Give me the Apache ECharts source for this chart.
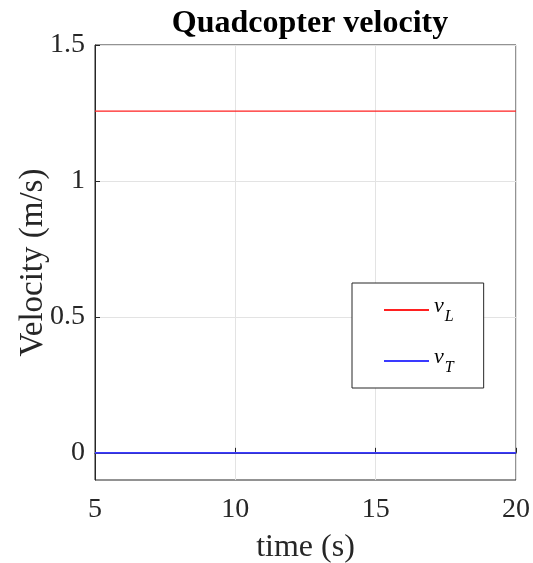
<!DOCTYPE html>
<html><head><meta charset="utf-8">
<script src="https://cdn.jsdelivr.net/npm/echarts@6/dist/echarts.min.js"></script>
<style>html,body{margin:0;padding:0;background:#fff}#c{width:533px;height:563px}</style>
</head><body><div id="c"></div>
<script>
const time = [5, 10, 15, 20];
const vL = [1.257, 1.257, 1.257, 1.257];
const vT = [0, 0, 0, 0];
const xTicks = [5, 10, 15, 20];
const yTicks = [0, 0.5, 1, 1.5];
const seriesNames = ['vL', 'vT'];
const subs = {vL: 'L', vT: 'T'};

const serif = '"Liberation Serif", "Times New Roman", serif';
const chart = echarts.init(document.getElementById('c'));
chart.setOption({
  backgroundColor: '#fff',
  animation: false,
  title: {
    text: 'Quadcopter velocity', left: 305, top: 3, textAlign: 'center',
    textStyle: {fontFamily: serif, fontWeight: 'bold', fontSize: 32, color: '#000'}
  },
  grid: {left: 95, right: 17, top: 45, bottom: 83, show: true, borderColor: '#262626', borderWidth: 1,
    outerBoundsMode: 'none', containLabel: false},
  xAxis: {
    type: 'value', min: 5, max: 20, interval: 5,
    name: 'time (s)', nameLocation: 'middle', nameGap: 52, nameMoveOverlap: false,
    nameTextStyle: {fontFamily: serif, fontSize: 32, color: '#262626'},
    axisLine: {show: true, lineStyle: {color: '#262626', width: 1}},
    axisTick: {show: true, inside: true, length: 5, lineStyle: {color: '#262626'}},
    axisLabel: {fontFamily: serif, fontSize: 28, color: '#262626', margin: 16},
    splitLine: {show: true, lineStyle: {color: '#e3e3e3', width: 1}}
  },
  yAxis: {
    type: 'value', min: -0.1, max: 1.5, splitNumber: 3,
    name: 'Velocity (m/s)', nameLocation: 'middle', nameGap: 45, nameMoveOverlap: false,
    nameTextStyle: {fontFamily: serif, fontSize: 33, color: '#262626'},
    axisLine: {show: true, lineStyle: {color: '#262626', width: 1}},
    axisTick: {show: true, inside: true, length: 5, customValues: yTicks, lineStyle: {color: '#262626'}},
    axisLabel: {fontFamily: serif, fontSize: 28, color: '#262626', margin: 10, customValues: yTicks,
      formatter: v => String(v)},
    splitLine: {show: true, lineStyle: {color: '#e3e3e3', width: 1}}
  },
  legend: {
    orient: 'vertical', left: 352, top: 283,
    padding: [12, 30, 12, 31], itemGap: 21,
    itemWidth: 45, itemHeight: 14,
    borderColor: '#262626', borderWidth: 1, backgroundColor: '#fff',
    data: seriesNames,
    itemStyle: {opacity: 0},
    formatter: n => '{v|v}{s|' + subs[n] + '}',
    textStyle: {
      rich: {
        v: {fontFamily: serif, fontStyle: 'italic', fontSize: 22, color: '#000', verticalAlign: 'bottom', padding: [0, 0, 8, 0]},
        s: {fontFamily: serif, fontStyle: 'italic', fontSize: 16, color: '#000', padding: [0, 0, 0, 1], verticalAlign: 'bottom'}
      }
    }
  },
  series: [
    {name: 'vL', type: 'line', data: time.map((t, i) => [t, vL[i]]), symbol: 'none',
      lineStyle: {color: '#ff2020', width: 1.2}, itemStyle: {color: '#ff2020'}},
    {name: 'vT', type: 'line', data: time.map((t, i) => [t, vT[i]]), symbol: 'none',
      lineStyle: {color: '#3a3aff', width: 1.8}, itemStyle: {color: '#3a3aff'}}
  ]
});
</script></body></html>
